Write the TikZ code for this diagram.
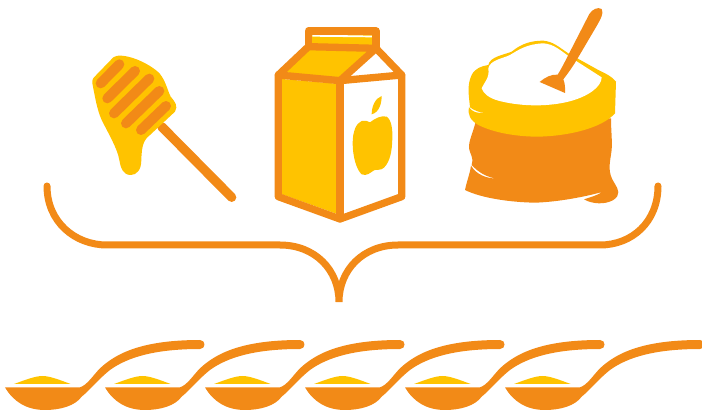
\documentclass[tikz,border=0pt]{standalone}
\definecolor{org}{HTML}{F28A17}
\definecolor{yel}{HTML}{FFC300}
\tikzset{
  ofill/.style={fill=org,draw=none},
  yfill/.style={fill=yel,draw=none},
  wfill/.style={fill=white,draw=none},
  stripe/.style={draw=org,line width=10pt,line cap=round},
  carton/.style={draw=org,line width=7.3pt,line join=round,line cap=round},
  brace/.style={draw=org,line width=7pt,line cap=round},
}
\begin{document}
\begin{tikzpicture}[x=1pt,y=-1pt,scale=1]
\useasboundingbox (0,0) rectangle (702,414);
% honey dipper
\begin{scope}[shift={(80,0)},scale=1/3]
\draw[org,line width=9.3pt,line cap=round] (245,380) -- (455,592);
\fill[yfill] (100,172) .. controls (110,164) and (135,165) .. (170,178)
 .. controls (195,188) and (225,205) .. (240,222) .. controls (258,245) and (262,270) .. (272,290)
 .. controls (285,305) and (295,318) .. (285,335) -- (210,405)
 .. controls (190,420) and (185,440) .. (184,480) .. controls (184,510) and (170,525) .. (152,525)
 .. controls (130,525) and (122,505) .. (118,480) .. controls (112,445) and (85,400) .. (65,360)
 .. controls (50,325) and (45,290) .. (37,250) .. controls (36,240) and (38,236) .. (42,232) -- cycle;
\draw[stripe] (62,250) -- (118,193);
\draw[stripe] (82,295) -- (165,213);
\draw[stripe] (102,340) -- (208,236);
\draw[stripe] (138,370) -- (238,273);
\draw[stripe] (183,390) -- (258,318);
\end{scope}
% carton
\begin{scope}[shift={(260,15)},scale=1/3]
\fill[yfill] (66,192) -- (240,207) -- (240,600) -- (66,538) -- cycle;
\fill[yfill] (75,172) -- (148,100) -- (335,105) -- (235,188) -- cycle;
\fill[yfill] (150,60) -- (345,60) -- (345,95) -- (150,95) -- cycle;
\fill[wfill] (157,59) -- (338,62) -- (338,67) -- (157,65) -- cycle;
\draw[carton] (145,95) -- (145,48) -- (348,48) -- (348,100);
\draw[carton] (145,95) -- (348,100) -- (425,180) -- (425,545) -- (240,612) -- (55,545) -- (55,180) -- cycle;
\draw[carton] (55,180) -- (240,197) -- (425,180);
\draw[carton] (240,197) -- (240,612);
\draw[carton] (240,197) -- (348,100);
\fill[yfill] (330,322) .. controls (345,310) and (365,300) .. (380,305) .. controls (395,315) and (398,345) .. (397,370)
 .. controls (396,410) and (390,440) .. (372,458) .. controls (362,468) and (350,462) .. (342,466)
 .. controls (332,472) and (320,485) .. (305,478) .. controls (290,465) and (278,425) .. (278,385)
 .. controls (278,350) and (288,325) .. (305,318) .. controls (315,315) and (322,318) .. (330,322) -- cycle;
\fill[yfill] (335,298) .. controls (335,275) and (345,250) .. (365,243) .. controls (365,265) and (358,292) .. (335,298) -- cycle;
\end{scope}
% sack
\begin{scope}[shift={(455,0)},scale=1/3]
\fill[ofill] (62,365) .. controls (55,395) and (40,425) .. (42,445) .. controls (44,460) and (58,475) .. (50,495)
 .. controls (75,522) and (100,532) .. (125,536) .. controls (95,535) and (65,525) .. (48,497)
 .. controls (45,520) and (35,545) .. (30,570) .. controls (80,595) and (170,607) .. (240,608)
 .. controls (310,606) and (390,590) .. (442,576) .. controls (425,587) and (405,592) .. (387,598)
 .. controls (410,612) and (450,615) .. (475,600) .. controls (498,585) and (490,568) .. (480,552)
 .. controls (455,515) and (465,490) .. (470,450) .. controls (472,420) and (468,390) .. (468,355) -- cycle;
\fill[yfill] (100,195) .. controls (80,198) and (60,205) .. (50,225) .. controls (35,255) and (42,290) .. (45,322)
 .. controls (58,332) and (75,338) .. (88,338) .. controls (70,342) and (50,335) .. (42,322)
 .. controls (38,345) and (45,360) .. (70,375) .. controls (120,400) and (190,410) .. (250,410)
 .. controls (340,408) and (440,385) .. (480,340) -- (483,245) .. controls (470,228) and (450,220) .. (430,210)
 -- (340,160) .. controls (310,140) and (295,125) .. (265,122) .. controls (230,122) and (200,130) .. (170,155)
 .. controls (145,165) and (105,170) .. (100,195) -- cycle;
\fill[wfill] (80,265) .. controls (85,250) and (105,235) .. (100,205) .. controls (105,180) and (145,175) .. (165,165)
 .. controls (190,150) and (215,132) .. (265,130) .. controls (295,132) and (315,150) .. (340,168)
 -- (440,232) .. controls (440,260) and (400,290) .. (340,305) .. controls (270,322) and (190,318) .. (130,302)
 .. controls (105,295) and (85,282) .. (80,265) -- cycle;
\fill[ofill] (403,42) .. controls (412,28) and (428,20) .. (440,27) .. controls (448,40) and (435,60) .. (425,78)
 -- (365,180) .. controls (350,205) and (335,225) .. (325,238) .. controls (330,250) and (331,265) .. (330,279)
 -- (254,246) .. controls (270,232) and (290,222) .. (308,224) .. controls (320,205) and (335,175) .. (345,155) -- cycle;
\end{scope}
% brace
\coordinate (bl) at (47,186);
\coordinate (br) at (658,186);
\coordinate (bb) at (339,302);
\coordinate (m1) at (107,245);
\coordinate (m2) at (280,245);
\coordinate (m3) at (398,245);
\coordinate (m4) at (600,245);
\draw[brace] (bl) .. controls (47,222) and (75,245) .. (m1) -- (m2) .. controls (315,245) and (339,270) .. (bb)
 .. controls (339,270) and (363,245) .. (m3) -- (m4) .. controls (632,245) and (658,222) .. (br);
% spoons
\foreach \dx in {0,100,200,300,400,500}{
\begin{scope}[shift={(\dx,330)},scale=1/3]
\fill[yfill] (42,162) .. controls (75,150) and (105,138) .. (128,138) .. controls (150,138) and (185,152) .. (212,162) -- cycle;
\fill[ofill] (15,172) -- (240,172) .. controls (262,165) and (280,135) .. (300,115) .. controls (350,68) and (430,30) .. (600,30)
 .. controls (618,30) and (618,57) .. (600,57) .. controls (470,57) and (385,80) .. (330,120)
 .. controls (300,143) and (270,180) .. (245,200) .. controls (225,228) and (180,240) .. (135,240)
 .. controls (80,240) and (40,215) .. (15,172) -- cycle;
\end{scope}}
\end{tikzpicture}
\end{document}
